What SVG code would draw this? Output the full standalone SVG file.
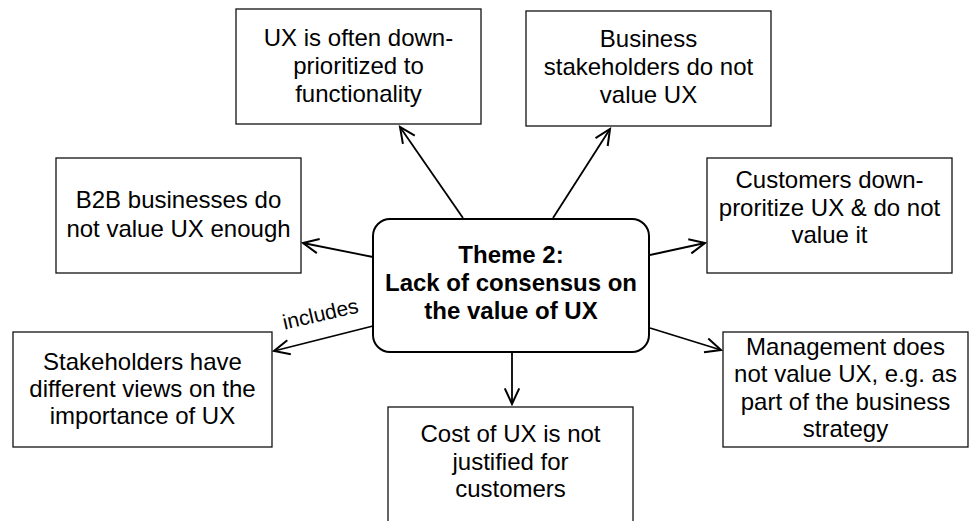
<svg xmlns="http://www.w3.org/2000/svg" width="969" height="521" viewBox="0 0 969 521">
<defs>
<style>
.box{fill:#ffffff;stroke:#111111;stroke-width:1.3}
.center{fill:#ffffff;stroke:#000000;stroke-width:2}
.t{font-family:"Liberation Sans",Arial,Helvetica,sans-serif;font-size:24px;fill:#000000;text-anchor:middle}
.b{font-weight:bold}
.edge{fill:none;stroke:#000000;stroke-width:1.8;marker-end:url(#arr)}
.lbl{font-family:"Liberation Sans",Arial,Helvetica,sans-serif;font-size:21px;fill:#000000;text-anchor:middle}
</style>
<marker id="arr" markerUnits="userSpaceOnUse" markerWidth="20" markerHeight="20" viewBox="-16 -8 18 16" refX="0" refY="0" orient="auto">
<path d="M -14 -6.5 L 0 0 L -14 6.5" fill="none" stroke="#000000" stroke-width="1.8"/>
</marker>
</defs>
<rect width="969" height="521" fill="#ffffff"/>
<g id="connectors">
<line class="edge" x1="463" y1="218" x2="400" y2="127"/>
<line class="edge" x1="553" y1="218" x2="610" y2="129"/>
<line class="edge" x1="373" y1="257" x2="303" y2="243"/>
<line class="edge" x1="650" y1="255" x2="705" y2="243"/>
<line class="edge" x1="373" y1="326" x2="274" y2="351"/>
<line class="edge" x1="650" y1="328" x2="721" y2="350"/>
<line class="edge" x1="512" y1="352" x2="512" y2="404"/>
<text class="lbl" transform="translate(322,321) rotate(-13)">includes</text>
</g>
<g id="n-center">
<rect class="center" x="373" y="219" width="276" height="133" rx="17" ry="17"/>
<text class="t b" x="511" y="263">Theme 2:</text>
<text class="t b" x="511" y="291">Lack of consensus on</text>
<text class="t b" x="511" y="319">the value of UX</text>
</g>
<g id="n-down-prioritized">
<rect class="box" x="236" y="9" width="245" height="115"/>
<text class="t" x="358.5" y="46">UX is often down-</text>
<text class="t" x="358.5" y="74">prioritized to</text>
<text class="t" x="358.5" y="102">functionality</text>
</g>
<g id="n-business">
<rect class="box" x="526" y="11" width="245" height="115"/>
<text class="t" x="648.5" y="47">Business</text>
<text class="t" x="648.5" y="75">stakeholders do not</text>
<text class="t" x="648.5" y="103">value UX</text>
</g>
<g id="n-b2b">
<rect class="box" x="56" y="158" width="245" height="115"/>
<text class="t" x="178.5" y="208">B2B businesses do</text>
<text class="t" x="178.5" y="237">not value UX enough</text>
</g>
<g id="n-customers">
<rect class="box" x="707" y="158" width="245" height="115"/>
<text class="t" x="829.5" y="188">Customers down-</text>
<text class="t" x="829.5" y="216">proritize UX &amp; do not</text>
<text class="t" x="829.5" y="243">value it</text>
</g>
<g id="n-stakeholders">
<rect class="box" x="13" y="332" width="259" height="115"/>
<text class="t" x="142.5" y="370">Stakeholders have</text>
<text class="t" x="142.5" y="397">different views on the</text>
<text class="t" x="142.5" y="424">importance of UX</text>
</g>
<g id="n-management">
<rect class="box" x="723" y="332" width="245" height="115"/>
<text class="t" x="845.5" y="355">Management does</text>
<text class="t" x="845.5" y="382">not value UX, e.g. as</text>
<text class="t" x="845.5" y="410">part of the business</text>
<text class="t" x="845.5" y="437">strategy</text>
</g>
<g id="n-cost">
<rect class="box" x="388" y="407" width="245" height="115"/>
<text class="t" x="510.5" y="442">Cost of UX is not</text>
<text class="t" x="510.5" y="470">justified for</text>
<text class="t" x="510.5" y="497">customers</text>
</g>
</svg>
